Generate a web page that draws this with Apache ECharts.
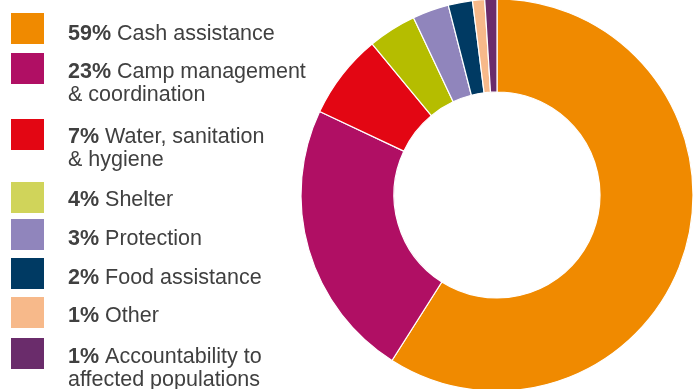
<!DOCTYPE html>
<html>
<head>
<meta charset="utf-8">
<style>
  html, body { margin: 0; padding: 0; background: #ffffff; }
  #chart { width: 694px; height: 389px; }
</style>
<script src="https://cdn.jsdelivr.net/npm/echarts@6/dist/echarts.min.js"></script>
</head>
<body>
<div id="chart"></div>
<script>
// Funding breakdown by sector
const categories = [
  'Cash assistance',
  'Camp management\n& coordination',
  'Water, sanitation\n& hygiene',
  'Shelter',
  'Protection',
  'Food assistance',
  'Other',
  'Accountability to\naffected populations'
];
const shares = [59, 23, 7, 4, 3, 2, 1, 1];
const sliceColors = ['#F08A00', '#B00F64', '#E30613', '#B5BD00', '#9085BC', '#003A63', '#F7B98A', '#6A2C6B'];
const swatchColors = ['#F08A00', '#B00F64', '#E30613', '#D0D45A', '#9085BC', '#003A63', '#F7B98A', '#6A2C6B'];

// Legend layout: swatch tops and first-line text baselines
const rowTop = [13, 53, 119, 182, 219, 258, 297, 338];
const rowBaseline = [39, 77, 142, 205, 244, 283, 321, 362];
const fontFamily = '"Liberation Sans", Arial, sans-serif';
const fontSize = 21.5;
const lineGap = 23.5;
const descentPad = 6;
const textColor = '#404040';

const graphics = [];
categories.forEach((name, i) => {
  graphics.push({
    type: 'rect',
    shape: { x: 11, y: rowTop[i], width: 33, height: 31 },
    style: { fill: swatchColors[i] },
    silent: true
  });
  name.split('\n').forEach((line, j) => {
    graphics.push({
      type: 'text',
      x: 68,
      y: rowBaseline[i] + descentPad + j * lineGap,
      silent: true,
      style: {
        text: j === 0 ? '{b|' + shares[i] + '%} ' + line : line,
        fill: textColor,
        font: fontSize + 'px ' + fontFamily,
        verticalAlign: 'bottom',
        rich: {
          b: { fontWeight: 'bold', fontSize: fontSize, fontFamily: fontFamily, fill: textColor }
        }
      }
    });
  });
});

const chart = echarts.init(document.getElementById('chart'), null, { renderer: 'canvas' });
chart.setOption({
  animation: false,
  backgroundColor: '#ffffff',
  series: [{
    type: 'pie',
    center: [497, 195],
    radius: [103, 196],
    startAngle: 90,
    clockwise: true,
    avoidLabelOverlap: false,
    label: { show: false },
    labelLine: { show: false },
    emphasis: { disabled: true },
    itemStyle: { borderColor: '#ffffff', borderWidth: 1.2 },
    data: categories.map((name, i) => ({
      name: name,
      value: shares[i],
      itemStyle: { color: sliceColors[i] }
    }))
  }],
  graphic: graphics
});
</script>
</body>
</html>
